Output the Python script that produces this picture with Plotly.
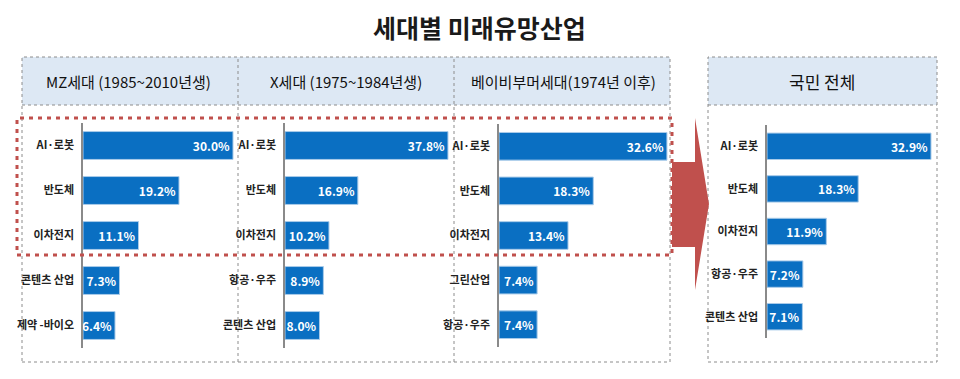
import plotly.graph_objects as go

# page body keeps an 8px margin, so the figure is drawn 8px smaller and offset
OFF = 8
W, H = 960 - OFF, 379 - OFF

# ---------------- data ----------------
title_text = "세대별 미래유망산업"
panel_titles = ["MZ세대 (1985~2010년생)", "X세대 (1975~1984년생)", "베이비부머세대(1974년 이후)", "국민 전체"]

mz_cats = ["AI·로봇", "반도체", "이차전지", "콘텐츠 산업", "제약 -바이오"]
mz_vals = [30.0, 19.2, 11.1, 7.3, 6.4]

x_cats = ["AI·로봇", "반도체", "이차전지", "항공·우주", "콘텐츠 산업"]
x_vals = [37.8, 16.9, 10.2, 8.9, 8.0]

bb_cats = ["AI·로봇", "반도체", "이차전지", "그린산업", "항공·우주"]
bb_vals = [32.6, 18.3, 13.4, 7.4, 7.4]

all_cats = ["AI·로봇", "반도체", "이차전지", "항공·우주", "콘텐츠 산업"]
all_vals = [32.9, 18.3, 11.9, 7.2, 7.1]

# ---------------- layout helpers (screen pixels -> paper) ----------------
def px(x):
    return (x - OFF) / W

def py(y):
    return 1 - (y - OFF) / H

FONT = "Noto Sans CJK KR"
BAR = "#0a6fc2"
BAR_EDGE = "#a9cbe9"
RED = "#c0504d"
GRID = "#8c8c8c"
HEAD = "#dde8f4"

panels = [
    (mz_cats, mz_vals, (83, 236), (123, 348), 30.6),
    (x_cats, x_vals, (285, 451), (123, 348), 38.5),
    (bb_cats, bb_vals, (499, 669), (124, 347), 33.0),
    (all_cats, all_vals, (767, 934), (125, 338), 33.5),
]

fig = go.Figure()
layout_axes = {}
for i, (cats, vals, (x0, x1), (y0, y1), xmax) in enumerate(panels, start=1):
    xa = "x" if i == 1 else f"x{i}"
    ya = "y" if i == 1 else f"y{i}"
    fig.add_trace(go.Bar(
        x=vals, y=cats, orientation="h",
        xaxis=xa, yaxis=ya,
        marker=dict(color=BAR, line=dict(color=BAR_EDGE, width=1)),
        texttemplate="%{x:.1f}%",
        textposition="inside", insidetextanchor="end",
        constraintext="none",
        textfont=dict(family=FONT, size=12, color="white", weight="bold"),
        hoverinfo="skip", showlegend=False,
    ))
    layout_axes["xaxis" if i == 1 else f"xaxis{i}"] = dict(
        domain=[px(x0), px(x1)], range=[0, xmax], visible=False,
        anchor=ya, fixedrange=True,
    )
    layout_axes["yaxis" if i == 1 else f"yaxis{i}"] = dict(
        domain=[py(y1), py(y0)], anchor=xa, type="category",
        categoryorder="array", categoryarray=cats,
        range=[len(cats) - 0.5, -0.5],
        showline=True, linecolor="#8a8a8a", linewidth=1.5,
        ticks="", showgrid=False, zeroline=False, ticklabelstandoff=5,
        tickfont=dict(family=FONT, size=11, color="#222", weight="bold"),
        fixedrange=True,
    )

fig.update_traces(width=0.62)

shapes = []
# header fills
shapes.append(dict(type="rect", xref="paper", yref="paper", x0=px(22), x1=px(670), y0=py(105), y1=py(57),
                   fillcolor=HEAD, line=dict(width=0), layer="below"))
shapes.append(dict(type="rect", xref="paper", yref="paper", x0=px(708), x1=px(937), y0=py(105), y1=py(57),
                   fillcolor=HEAD, line=dict(width=0), layer="below"))
# borders
border = dict(color=GRID, width=1, dash="dot")
for (a, b) in [(22, 670), (708, 937)]:
    shapes.append(dict(type="rect", xref="paper", yref="paper", x0=px(a), x1=px(b), y0=py(362), y1=py(57),
                       line=border, layer="below"))
    shapes.append(dict(type="line", xref="paper", yref="paper", x0=px(a), x1=px(b), y0=py(105), y1=py(105),
                       line=border, layer="below"))
for xv in (238, 454):
    shapes.append(dict(type="line", xref="paper", yref="paper", x0=px(xv), x1=px(xv), y0=py(362), y1=py(57),
                       line=border, layer="below"))
# red arrow
pts = [(672, 162), (695, 162), (695, 118), (709, 204), (695, 290), (695, 247), (672, 247)]
path = "M " + " L ".join(f"{px(a):.5f},{py(b):.5f}" for a, b in pts) + " Z"
shapes.append(dict(type="path", xref="paper", yref="paper", path=path, fillcolor=RED,
                   line=dict(width=0), layer="above"))
# red dashed highlight box
shapes.append(dict(type="rect", xref="paper", yref="paper", x0=px(17), x1=px(672), y0=py(255), y1=py(118),
                   line=dict(color=RED, width=3, dash="4px,5px"), layer="above"))

annotations = [dict(text=f"<b>{title_text}</b>", x=px(479), y=py(27), xref="paper", yref="paper",
                    showarrow=False, font=dict(family=FONT, size=25, color="#1a1a1a"),
                    xanchor="center", yanchor="middle")]
centers = [128, 346, 563, 822]
sizes = [15, 15, 15, 17]
for t, c, s in zip(panel_titles, centers, sizes):
    annotations.append(dict(text=t, x=px(c), y=py(81), xref="paper", yref="paper", showarrow=False,
                            font=dict(family=FONT, size=s, color="#111"), xanchor="center", yanchor="middle"))

fig.update_layout(
    width=W, height=H, margin=dict(l=0, r=0, t=0, b=0),
    paper_bgcolor="white", plot_bgcolor="rgba(0,0,0,0)",
    bargap=0.38, shapes=shapes, annotations=annotations,
    **layout_axes,
)

fig.write_html("out.html", config={"displayModeBar": False})
